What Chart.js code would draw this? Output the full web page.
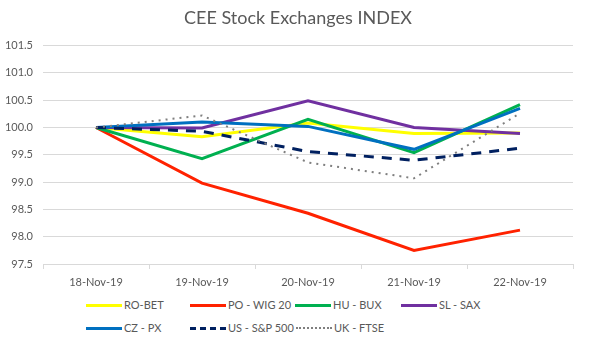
<!DOCTYPE html>
<html><head><meta charset="utf-8">
<script src="https://cdn.jsdelivr.net/npm/chart.js@4"></script>
<style>
html,body{margin:0;padding:0;background:#fff;}
#wrap{position:relative;width:596px;height:344px;overflow:hidden;}
#cv{position:absolute;left:0;top:0;}
.li{position:absolute;font-family:Lato,"Liberation Sans",sans-serif;font-size:11px;color:#595959;white-space:nowrap;line-height:14px;}
.li span.ln{display:inline-block;width:36px;height:0;vertical-align:middle;margin-right:2px;position:relative;top:-1px;}
</style></head>
<body><div id="wrap"><canvas id="cv" width="596" height="296"></canvas><div id="legend"></div></div>
<script>
const categories = ["18-Nov-19","19-Nov-19","20-Nov-19","21-Nov-19","22-Nov-19"];
const roBet  = [100, 99.83, 100.08, 99.89, 99.90];
const poWig  = [100, 98.98, 98.43, 97.75, 98.12];
const huBux  = [100, 99.43, 100.15, 99.54, 100.42];
const slSax  = [100, 99.99, 100.49, 100.00, 99.89];
const czPx   = [100, 100.10, 100.02, 99.60, 100.35];
const usSp   = [100, 99.93, 99.56, 99.40, 99.62];
const ukFtse = [100, 100.22, 99.36, 99.07, 100.26];
const yTicks = [97.5, 98.0, 98.5, 99.0, 99.5, 100.0, 100.5, 101.0, 101.5];

const series = [
  {label:"RO-BET", data:roBet, color:"#FFFF00", dash:[], w:3},
  {label:"PO - WIG 20", data:poWig, color:"#FF2200", dash:[], w:3},
  {label:"HU - BUX", data:huBux, color:"#00B050", dash:[], w:3},
  {label:"SL - SAX", data:slSax, color:"#7030A0", dash:[], w:3},
  {label:"CZ - PX", data:czPx, color:"#0070C0", dash:[], w:3},
  {label:"US - S&P 500", data:usSp, color:"#002060", dash:[10,8], w:3},
  {label:"UK - FTSE", data:ukFtse, color:"#7F7F7F", dash:[2,5], w:2}
];

const datasets = series.map((s,i)=>({
  label:s.label, data:s.data, borderColor:s.color, backgroundColor:s.color,
  borderWidth:s.w, borderDash:s.dash, pointRadius:0, tension:0, fill:false,
  order: series.length - i, borderCapStyle:'butt', yAxisID:'y'
}));

const fontFam = 'Lato, "Liberation Sans", sans-serif';
new Chart(document.getElementById('cv'), {
  type:'line',
  data:{labels:categories, datasets},
  options:{
    responsive:false, animation:false,
    layout:{padding:{left:0,right:0,top:7,bottom:0}},
    plugins:{
      legend:{display:false},
      tooltip:{enabled:false},
      title:{display:true, text:"CEE Stock Exchanges INDEX", color:"#595959",
        font:{family:fontFam, size:18, weight:'normal'}, padding:{top:0,bottom:17}}
    },
    scales:{
      x:{
        offset:true,
        grid:{display:true, drawOnChartArea:false, offset:true, color:"#d9d9d9", tickLength:5},
        border:{display:true, color:"#d9d9d9"},
        ticks:{color:"#595959", font:{family:fontFam, size:11}, padding:7, maxRotation:0},
        afterFit:(s)=>{s.height=32;}
      },
      y:{
        min:97.5, max:101.5,
        afterBuildTicks:(s)=>{s.ticks=yTicks.map(v=>({value:v}));},
        grid:{color:"#d9d9d9", drawTicks:false, lineWidth:1},
        border:{display:false},
        ticks:{color:"#595959", font:{family:fontFam, size:11}, padding:10,
          callback:(v)=>Number(v).toFixed(1)},
        afterFit:(s)=>{s.width=43;}
      },
      yr:{
        position:'right', display:true,
        grid:{display:false, drawTicks:false}, border:{display:false},
        ticks:{display:false},
        afterFit:(s)=>{s.width=23;}
      }
    }
  }
});

// legend in Excel-like grid
const pos = [[86,298],[190,298],[295,298],[401,298],[86,321],[190,321],[296,321]];
const lg = document.getElementById('legend');
series.forEach((s,i)=>{
  const d=document.createElement('div');d.className='li';
  d.style.left=pos[i][0]+'px';d.style.top=pos[i][1]+'px';
  const ln=document.createElement('span');ln.className='ln';
  const style = s.dash.length===0?'solid':(s.dash[0]>5?'dashed':'dotted');
  ln.style.borderTop = (s.w)+'px '+style+' '+s.color;
  d.appendChild(ln);
  d.appendChild(document.createTextNode(s.label));
  lg.appendChild(d);
});
</script></body></html>
